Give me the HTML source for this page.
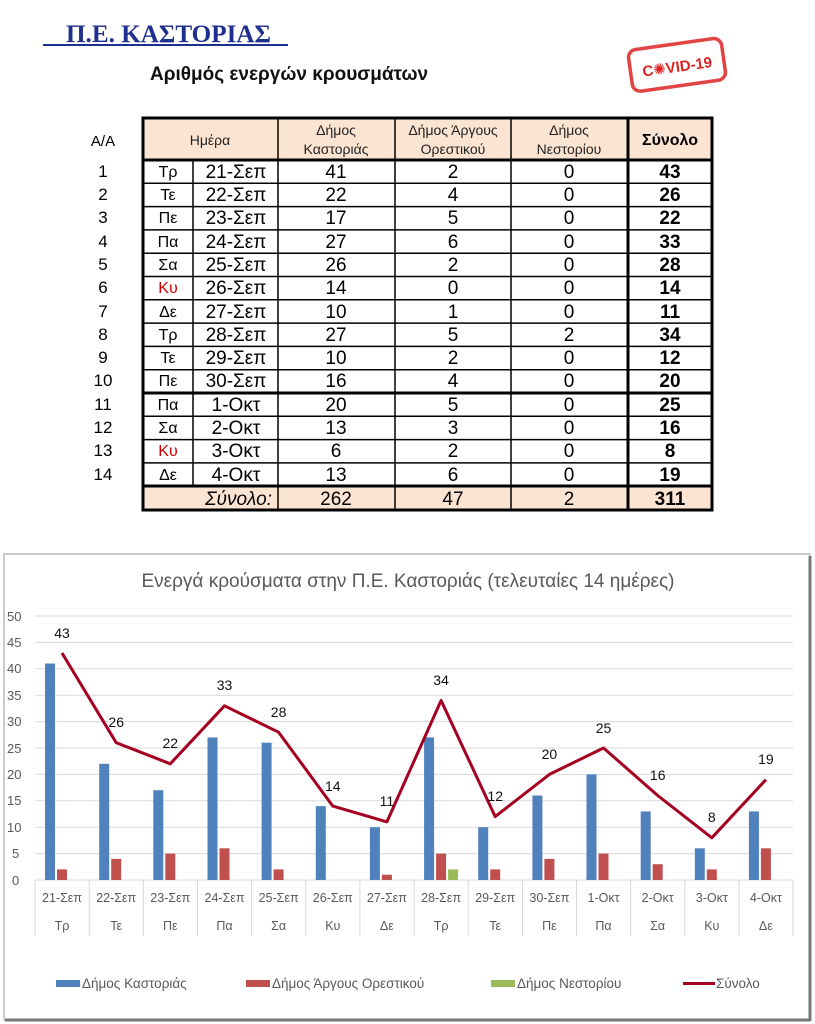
<!DOCTYPE html>
<html><head><meta charset="utf-8"><style>
body{margin:0;background:#fff;}
svg{display:block;font-family:"Liberation Sans","DejaVu Sans",sans-serif;}
</style></head><body>
<svg width="815" height="1024" viewBox="0 0 815 1024" xmlns="http://www.w3.org/2000/svg">
<text x="66" y="42" font-family="Liberation Serif,serif" font-size="25" fill="#1f2f8f" font-weight="bold" textLength="205" lengthAdjust="spacingAndGlyphs">Π.Ε. ΚΑΣΤΟΡΙΑΣ</text>
<line x1="43" y1="45" x2="288" y2="45" stroke="#1f2f8f" stroke-width="2"/>
<text x="150" y="80" font-size="19" font-weight="bold" fill="#111">Αριθμός ενεργών κρουσμάτων</text>
<g transform="rotate(-8 676 65)">
<rect x="630" y="44" width="94" height="42" rx="8" fill="none" stroke="#d22" stroke-width="3.5" opacity="0.85"/>
<text x="677" y="72" font-size="15" font-weight="bold" fill="#d22" text-anchor="middle">C✺VID-19</text>
</g>
<text x="103" y="146" font-size="15" text-anchor="middle">Α/Α</text>
<g font-size="17" text-anchor="middle">
<text x="103" y="177">1</text><text x="103" y="200">2</text><text x="103" y="223">3</text><text x="103" y="247">4</text><text x="103" y="270">5</text><text x="103" y="293">6</text><text x="103" y="317">7</text><text x="103" y="340">8</text><text x="103" y="363">9</text><text x="103" y="386">10</text><text x="103" y="410">11</text><text x="103" y="433">12</text><text x="103" y="456">13</text><text x="103" y="480">14</text>
</g>
<rect x="143" y="118" width="569" height="42" fill="#fce4d3"/>
<rect x="143" y="486" width="569" height="24" fill="#fce4d3"/>
<g stroke="#000" stroke-width="1.5">
<line x1="143" y1="183.3" x2="712" y2="183.3"/><line x1="143" y1="206.6" x2="712" y2="206.6"/><line x1="143" y1="229.9" x2="712" y2="229.9"/><line x1="143" y1="253.2" x2="712" y2="253.2"/><line x1="143" y1="276.5" x2="712" y2="276.5"/><line x1="143" y1="299.8" x2="712" y2="299.8"/><line x1="143" y1="323.1" x2="712" y2="323.1"/><line x1="143" y1="346.4" x2="712" y2="346.4"/><line x1="143" y1="369.7" x2="712" y2="369.7"/><line x1="143" y1="416.3" x2="712" y2="416.3"/><line x1="143" y1="439.6" x2="712" y2="439.6"/><line x1="143" y1="462.9" x2="712" y2="462.9"/>
<line x1="193" y1="160" x2="193" y2="486"/>
<line x1="278" y1="118" x2="278" y2="510"/><line x1="395" y1="118" x2="395" y2="510"/><line x1="511" y1="118" x2="511" y2="510"/>
</g>
<g stroke="#000" stroke-width="3" fill="none">
<rect x="143" y="118" width="569" height="392"/>
<line x1="143" y1="160" x2="712" y2="160"/>
<line x1="143" y1="393" x2="712" y2="393"/>
<line x1="143" y1="486" x2="712" y2="486"/>
<line x1="628" y1="118" x2="628" y2="510"/>
</g>
<g font-size="14" text-anchor="middle" fill="#222">
<text x="210" y="145">Ημέρα</text>
<text x="336" y="135">Δήμος</text><text x="336" y="154">Καστοριάς</text>
<text x="453" y="135">Δήμος Άργους</text><text x="453" y="154">Ορεστικού</text>
<text x="569" y="135">Δήμος</text><text x="569" y="154">Νεστορίου</text>
</g>
<text x="670" y="145" font-size="16" font-weight="bold" text-anchor="middle">Σύνολο</text>
<g font-size="16" text-anchor="middle">
<text x="168" y="177">Τρ</text><text x="168" y="200">Τε</text><text x="168" y="223">Πε</text><text x="168" y="247">Πα</text><text x="168" y="270">Σα</text><text x="168" y="293" fill="#c00">Κυ</text><text x="168" y="317">Δε</text><text x="168" y="340">Τρ</text><text x="168" y="363">Τε</text><text x="168" y="386">Πε</text><text x="168" y="410">Πα</text><text x="168" y="433">Σα</text><text x="168" y="456" fill="#c00">Κυ</text><text x="168" y="480">Δε</text>
</g>
<g font-size="19" text-anchor="middle">
<text x="236" y="178">21-Σεπ</text><text x="236" y="201">22-Σεπ</text><text x="236" y="224">23-Σεπ</text><text x="236" y="248">24-Σεπ</text><text x="236" y="271">25-Σεπ</text><text x="236" y="294">26-Σεπ</text><text x="236" y="318">27-Σεπ</text><text x="236" y="341">28-Σεπ</text><text x="236" y="364">29-Σεπ</text><text x="236" y="387">30-Σεπ</text><text x="236" y="411">1-Οκτ</text><text x="236" y="434">2-Οκτ</text><text x="236" y="457">3-Οκτ</text><text x="236" y="481">4-Οκτ</text>
<text x="336" y="178">41</text><text x="336" y="201">22</text><text x="336" y="224">17</text><text x="336" y="248">27</text><text x="336" y="271">26</text><text x="336" y="294">14</text><text x="336" y="318">10</text><text x="336" y="341">27</text><text x="336" y="364">10</text><text x="336" y="387">16</text><text x="336" y="411">20</text><text x="336" y="434">13</text><text x="336" y="457">6</text><text x="336" y="481">13</text>
<text x="453" y="178">2</text><text x="453" y="201">4</text><text x="453" y="224">5</text><text x="453" y="248">6</text><text x="453" y="271">2</text><text x="453" y="294">0</text><text x="453" y="318">1</text><text x="453" y="341">5</text><text x="453" y="364">2</text><text x="453" y="387">4</text><text x="453" y="411">5</text><text x="453" y="434">3</text><text x="453" y="457">2</text><text x="453" y="481">6</text>
<text x="569" y="178">0</text><text x="569" y="201">0</text><text x="569" y="224">0</text><text x="569" y="248">0</text><text x="569" y="271">0</text><text x="569" y="294">0</text><text x="569" y="318">0</text><text x="569" y="341">2</text><text x="569" y="364">0</text><text x="569" y="387">0</text><text x="569" y="411">0</text><text x="569" y="434">0</text><text x="569" y="457">0</text><text x="569" y="481">0</text>
<text x="336" y="505">262</text><text x="453" y="505">47</text><text x="569" y="505">2</text>
</g>
<text x="272" y="505" font-size="19" font-style="italic" text-anchor="end">Σύνολο:</text>
<g font-size="19" font-weight="bold" text-anchor="middle">
<text x="670" y="178">43</text><text x="670" y="201">26</text><text x="670" y="224">22</text><text x="670" y="248">33</text><text x="670" y="271">28</text><text x="670" y="294">14</text><text x="670" y="318">11</text><text x="670" y="341">34</text><text x="670" y="364">12</text><text x="670" y="387">20</text><text x="670" y="411">25</text><text x="670" y="434">16</text><text x="670" y="457">8</text><text x="670" y="481">19</text><text x="670" y="505">311</text>
</g>

<rect x="4" y="554" width="806" height="466" fill="#fff" stroke="#bbb" stroke-width="1.5"/>
<line x1="5" y1="1020" x2="810" y2="1020" stroke="#777" stroke-width="3"/>
<line x1="810" y1="556" x2="810" y2="1021" stroke="#777" stroke-width="3"/>
<text x="408" y="587" font-size="19" fill="#595959" text-anchor="middle">Ενεργά κρούσματα στην Π.Ε. Καστοριάς (τελευταίες 14 ημέρες)</text>
<g stroke="#d9d9d9" stroke-width="1">
<line x1="35" y1="616" x2="793" y2="616"/><line x1="35" y1="642.4" x2="793" y2="642.4"/><line x1="35" y1="668.8" x2="793" y2="668.8"/><line x1="35" y1="695.2" x2="793" y2="695.2"/><line x1="35" y1="721.6" x2="793" y2="721.6"/><line x1="35" y1="748" x2="793" y2="748"/><line x1="35" y1="774.4" x2="793" y2="774.4"/><line x1="35" y1="800.8" x2="793" y2="800.8"/><line x1="35" y1="827.2" x2="793" y2="827.2"/><line x1="35" y1="853.6" x2="793" y2="853.6"/><line x1="35" y1="880" x2="793" y2="880"/>
<line x1="35" y1="880" x2="35" y2="936"/><line x1="89.2" y1="880" x2="89.2" y2="936"/><line x1="143.3" y1="880" x2="143.3" y2="936"/><line x1="197.5" y1="880" x2="197.5" y2="936"/><line x1="251.6" y1="880" x2="251.6" y2="936"/><line x1="305.8" y1="880" x2="305.8" y2="936"/><line x1="359.9" y1="880" x2="359.9" y2="936"/><line x1="414.1" y1="880" x2="414.1" y2="936"/><line x1="468.2" y1="880" x2="468.2" y2="936"/><line x1="522.4" y1="880" x2="522.4" y2="936"/><line x1="576.5" y1="880" x2="576.5" y2="936"/><line x1="630.7" y1="880" x2="630.7" y2="936"/><line x1="684.8" y1="880" x2="684.8" y2="936"/><line x1="739" y1="880" x2="739" y2="936"/><line x1="793" y1="880" x2="793" y2="936"/>
</g>
<g font-size="13" fill="#595959">
<text x="7" y="621">50</text><text x="7" y="647">45</text><text x="7" y="673">40</text><text x="7" y="700">35</text><text x="7" y="726">30</text><text x="7" y="753">25</text><text x="7" y="779">20</text><text x="7" y="805">15</text><text x="7" y="832">10</text><text x="12" y="858">5</text><text x="12" y="885">0</text>
</g>
<g fill="#4f81bd">
<rect x="45" y="663.5" width="10" height="216.5"/><rect x="99.2" y="763.8" width="10" height="116.2"/><rect x="153.3" y="790.2" width="10" height="89.8"/><rect x="207.5" y="737.4" width="10" height="142.6"/><rect x="261.6" y="742.7" width="10" height="137.3"/><rect x="315.8" y="806.1" width="10" height="73.9"/><rect x="369.9" y="827.2" width="10" height="52.8"/><rect x="424.1" y="737.4" width="10" height="142.6"/><rect x="478.2" y="827.2" width="10" height="52.8"/><rect x="532.4" y="795.5" width="10" height="84.5"/><rect x="586.5" y="774.4" width="10" height="105.6"/><rect x="640.7" y="811.4" width="10" height="68.6"/><rect x="694.8" y="848.3" width="10" height="31.7"/><rect x="748.9" y="811.4" width="10" height="68.6"/>
</g>
<g fill="#c0504d">
<rect x="57" y="869.4" width="10" height="10.6"/><rect x="111.2" y="858.9" width="10" height="21.1"/><rect x="165.3" y="853.6" width="10" height="26.4"/><rect x="219.5" y="848.3" width="10" height="31.7"/><rect x="273.6" y="869.4" width="10" height="10.6"/><rect x="381.9" y="874.7" width="10" height="5.3"/><rect x="436.1" y="853.6" width="10" height="26.4"/><rect x="490.2" y="869.4" width="10" height="10.6"/><rect x="544.4" y="858.9" width="10" height="21.1"/><rect x="598.5" y="853.6" width="10" height="26.4"/><rect x="652.7" y="864.2" width="10" height="15.8"/><rect x="706.8" y="869.4" width="10" height="10.6"/><rect x="760.9" y="848.3" width="10" height="31.7"/>
</g>
<rect x="448.1" y="869.4" width="10" height="10.6" fill="#9bbb59"/>
<polyline fill="none" stroke="#a50021" stroke-width="3" stroke-linejoin="round" points="62,653 116.2,742.7 170.3,763.8 224.5,705.8 278.6,732.2 332.8,806.1 386.9,821.9 441.1,700.5 495.2,816.6 549.4,774.4 603.5,748 657.7,795.5 711.8,837.8 765.9,779.7"/>
<g font-size="14" fill="#111" text-anchor="middle">
<text x="62" y="638">43</text><text x="116.2" y="727">26</text><text x="170.3" y="748">22</text><text x="224.5" y="690">33</text><text x="278.6" y="717">28</text><text x="332.8" y="791">14</text><text x="386.9" y="806">11</text><text x="441.1" y="685">34</text><text x="495.2" y="801">12</text><text x="549.4" y="759">20</text><text x="603.5" y="733">25</text><text x="657.7" y="780">16</text><text x="711.8" y="822">8</text><text x="765.9" y="764">19</text>
</g>
<g font-size="12.5" fill="#595959" text-anchor="middle">
<text x="62" y="902">21-Σεπ</text><text x="116.2" y="902">22-Σεπ</text><text x="170.3" y="902">23-Σεπ</text><text x="224.5" y="902">24-Σεπ</text><text x="278.6" y="902">25-Σεπ</text><text x="332.8" y="902">26-Σεπ</text><text x="386.9" y="902">27-Σεπ</text><text x="441.1" y="902">28-Σεπ</text><text x="495.2" y="902">29-Σεπ</text><text x="549.4" y="902">30-Σεπ</text><text x="603.5" y="902">1-Οκτ</text><text x="657.7" y="902">2-Οκτ</text><text x="711.8" y="902">3-Οκτ</text><text x="765.9" y="902">4-Οκτ</text>
<text x="62" y="930">Τρ</text><text x="116.2" y="930">Τε</text><text x="170.3" y="930">Πε</text><text x="224.5" y="930">Πα</text><text x="278.6" y="930">Σα</text><text x="332.8" y="930">Κυ</text><text x="386.9" y="930">Δε</text><text x="441.1" y="930">Τρ</text><text x="495.2" y="930">Τε</text><text x="549.4" y="930">Πε</text><text x="603.5" y="930">Πα</text><text x="657.7" y="930">Σα</text><text x="711.8" y="930">Κυ</text><text x="765.9" y="930">Δε</text>
</g>
<rect x="56" y="980" width="24" height="7" fill="#4f81bd"/>
<rect x="246" y="980" width="24" height="7" fill="#c0504d"/>
<rect x="491" y="980" width="24" height="7" fill="#9bbb59"/>
<line x1="683" y1="983.5" x2="715" y2="983.5" stroke="#a50021" stroke-width="3"/>
<g font-size="13.5" fill="#595959">
<text x="82" y="988">Δήμος Καστοριάς</text><text x="272" y="988">Δήμος Άργους Ορεστικού</text><text x="517" y="988">Δήμος Νεστορίου</text><text x="716" y="988">Σύνολο</text>
</g>
</svg>
</body></html>
